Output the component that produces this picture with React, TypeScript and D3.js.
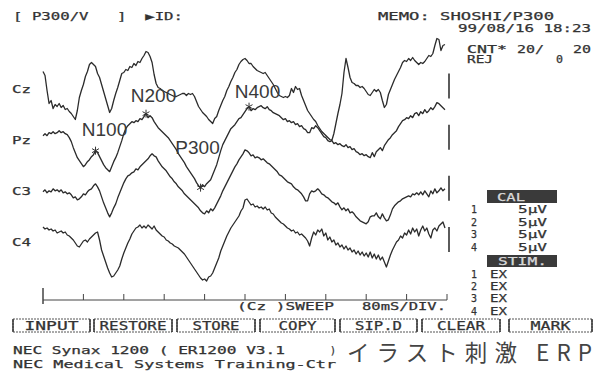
import React from 'react';
import * as d3 from 'd3';

// ERP averaging screen (NEC Synax 1200), 4 channels, 4 ms per sample
const SAMPLE_MS = 4;
const channels = ['Cz', 'Pz', 'C3', 'C4'];

// amplitudes in µV (positive drawn upward), one value per sample
const czUV = [
  3.4, 2.6, -0.4, -3, -2.4, -4, -3.2, -3.6, -3, -3.8,
  -3.4, -4.2, -4, -4.6, -5, -5.6, -6.2, -4.4, -1.8, -0.4,
  0.8, 2.4, 3.4, 4.8, 5.2, 4.8, 4.4, 3, 2.2, 0.8,
  -0.6, -2, -3.4, -4.8, -4, -2.4, -1, 0.2, 1.6, 3,
  3.2, 3.8, 3.6, 4.4, 4.2, 5, 4.6, 5.4, 5.2, 6,
  6.6, 7.4, 7.2, 6.4, 5.2, 2.8, 1, 0.2, 0, -0.4,
  -0.6, -0.8, -1, -1.2, -1.4, -1.6, -1.6, -1.4, -1.2, -1,
  -1, -1.4, -1, -1.2, -1, -1.6, -2.6, -3.6, -4.2, -4.8,
  -5.2, -5.6, -6.2, -6.6, -7, -6, -5.6, -4.4, -3.4, -2.4,
  -1.6, -0.4, 0.4, 1.4, 2.2, 3.2, 3.8, 4.8, 5.4, 5.8,
  6, 5.6, 5, 5, 4.4, 4, 3.6, 3.4, 3.2, 3,
  3.2, 2.6, 2, 1.4, 0.8, 0, -0.8, -1.4, -1.6, -1.8,
  -1.6, -1.8, -1.4, 0, -0.8, 0.4, -0.2, 0, -1.4, -2.4,
  -3.4, -4.4, -5, -5.6, -6.2, -6.6, -7.4, -8, -8.6, -9,
  -9.4, -9.8, -10.2, -10.4, -9, -7, -5, -3.2, -1, 3.2,
  6, 4.2, 2.2, 1.2, 1, 0.6, 0.6, 0.2, 0.4, 0,
  -0.6, -1.2, -1.4, -0.8, -0.2, -0.6, -0.2, -0.8, -2.4, -3.8,
  -3.2, -1.2, -0.2, 0.8, 1.8, 2.6, 3.4, 4.2, 5.2, 5.6,
  5.4, 6, 5.6, 6.2, 5.6, 5.2, 4.8, 5.2, 5, 5.4,
  6, 6.6, 6.4, 7, 8.6, 10, 9.8, 7.6, 8.6, 8.8,
];

const pzUV = [
  0.8, 1.2, 0.8, 1.4, 1.2, 1.6, 1.2, 1.4, 1.8, 1.4,
  1.6, 1.2, 1.0, 0.4, -0.4, -1.6, -2.6, -3.6, -4.2, -4.8,
  -5.4, -5.0, -4.4, -4.0, -3.4, -3.0, -2.2, -2.6, -3.4, -4.2,
  -5.0, -5.6, -6.0, -6.4, -5.4, -4.4, -3.6, -2.6, -1.4, -0.2,
  1.2, 2.2, 2.8, 3.2, 3.6, 3.4, 3.8, 3.6, 4.2, 4.0,
  4.6, 5.2, 4.4, 4.8, 4.4, 3.6, 3.0, 2.4, 2.0, 1.6,
  1.2, 0.8, 0.4, -0.2, -0.8, -1.4, -2.0, -2.8, -3.4, -4.0,
  -4.6, -5.4, -6.0, -6.6, -7.2, -7.8, -8.6, -9.2, -9.6, -9.0,
  -9.4, -8.8, -8.4, -8.0, -7.0, -6.0, -5.0, -3.6, -2.2, -1.0,
  -0.2, 0.6, 1.4, 2.2, 2.6, 3.0, 3.6, 4.2, 4.4, 5.0,
  5.6, 6.2, 6.6, 5.8, 6.2, 6.0, 6.4, 6.6, 6.8, 6.4,
  6.2, 6.6, 6.0, 5.8, 5.4, 5.2, 5.0, 4.8, 4.4, 4.0,
  4.2, 3.6, 3.8, 3.4, 3.6, 3.0, 3.2, 2.6, 2.8, 2.2,
  2.0, 1.4, 1.4, 2.4, 2.2, 2.8, 2.4, 1.8, 1.2, 0.6,
  0.4, -0.2, -0.4, -0.2, -0.8, -0.6, -1.0, -0.8, -1.2, -1.4,
  -1.0, -1.6, -1.4, -2.0, -1.8, -2.4, -2.6, -3.0, -2.8, -3.2,
  -3.0, -3.4, -3.6, -2.6, -3.4, -2.4, -2.0, -1.6, -2.2, -1.2,
  -0.6, 0.0, 0.4, 1.0, 1.4, 1.8, 2.6, 3.2, 3.8, 4.0,
  4.4, 4.2, 4.8, 4.4, 5.2, 5.4, 4.8, 5.6, 5.2, 6.0,
  5.4, 5.8, 6.4, 6.0, 6.6, 7.4, 7.2, 6.8, 6.4, 6.0,
];

const c3UV = [
  -0.2, 0.2, -0.4, 0, -0.2, 0.4, 0, 0.2, -0.2, 0.2,
  -0.4, -0.2, -0.6, -0.4, -0.8, -1.4, -1.2, -1.8, -1.6, -1.2,
  -0.6, -0.8, -0.2, 0.2, 0.4, 1, 1.4, 0.8, 0, -1.2,
  -2.4, -3.4, -4.4, -5.2, -4.4, -3.4, -2.6, -1.4, -0.4, 0.6,
  1.6, 2.4, 3, 3.2, 3.6, 3.8, 4.4, 4.2, 4.8, 5.2,
  5.6, 6, 6.4, 7, 7.4, 7, 6.8, 6, 5.4, 4.8,
  4.4, 4, 3.4, 2.8, 2.4, 1.8, 1.4, 0.8, 0.4, 0,
  -0.6, -1, -1.4, -1.8, -2.2, -2.6, -3, -3.4, -4, -4.4,
  -4.6, -4, -4.4, -3.6, -4, -3.4, -2.6, -1.8, -1, 0,
  0.8, 1.6, 2.4, 3.2, 4, 4.8, 5.4, 6.2, 6.8, 7.4,
  8.2, 8, 7.6, 7, 7.2, 6.6, 6.8, 6.6, 6.2, 6.4,
  6, 5.6, 5.4, 5, 4.6, 4.2, 3.8, 3.2, 3, 2.6,
  2.2, 1.8, 1.6, 1.4, 0.8, 0.4, 0.2, -0.2, -0.6, -1.2,
  -2, -2, -0.6, 0, -0.2, 0, 0.4, 0, -0.6, -0.8,
  -1.2, -1.4, -1.8, -2.2, -2.4, -2.8, -2.4, -3.2, -3.8, -3.4,
  -4, -3.6, -4.4, -4.2, -4.6, -5.2, -5.6, -6, -6.2, -6.4,
  -6.6, -6.2, -5.2, -5, -5, -4.4, -5.2, -5.6, -4.6, -5.4,
  -6, -5.8, -4.8, -3.6, -3, -2.6, -2.2, -2, -1.6, -1.4,
  -1.2, -1, -1.2, -0.6, -0.8, -0.4, -0.8, -0.2, -0.8, 0,
  -0.6, -1.2, 0, -0.6, 0.4, -0.4, 0, 0.6, 0, 0.4,
];

const c4UV = [
  3, 2.6, 2.8, 2.4, 2.6, 2.2, 2.4, 1.8, 2, 2.2,
  1.8, 2, 1.4, 1.2, 0.8, 0.4, -0.2, -0.8, -1, -0.4,
  0.2, 0.4, 0, 0.6, 1, 1.4, 1.8, 2, 0.4, -1.6,
  -2.8, -4, -5.2, -6.2, -7, -6.8, -6.2, -5.6, -4.8, -3.4,
  -2.2, -1.2, -0.2, 0.6, 1.6, 2.2, 2.8, 3, 3.4, 2.8,
  3.2, 2.8, 3.4, 3, 2.6, 3.2, 2.4, 2, 1.6, 1.2,
  1, 0.4, 0.2, -0.2, -0.4, -0.8, -1, -1.2, -1.6, -2,
  -2.4, -3, -3.6, -4.2, -4.8, -5.4, -6, -6.6, -7.2, -7.6,
  -7.4, -7.8, -7, -6.8, -6.2, -5.2, -4.2, -3.2, -1.8, -0.8,
  0.2, 1.2, 2, 2.8, 3.4, 4, 4.6, 5.2, 6.2, 6.8,
  8.4, 8.6, 8, 7.4, 7.6, 7, 7.2, 6.8, 7, 6.6,
  7, 6.4, 6.6, 5.8, 5.6, 5, 4.6, 4.2, 3.8, 3.6,
  3.2, 2.8, 2.6, 2.2, 2.4, 1.8, 2, 1.4, 1.6, 1.2,
  0.8, 0.2, -0.8, 0.8, 2, 1.4, 2.4, 2, 2.6, 1.2,
  1.8, 0.4, 1, 0, 0.4, -0.6, -0.2, -1, -0.6, -1.4,
  -0.8, -1.6, -1.2, -2, -1.6, -2.4, -1.8, -2.6, -2, -2.8,
  -2.2, -3, -2, -3.2, -2.4, -3.4, -2.6, -3.6, -3, -4,
  -5, -3.8, -2.6, -1.6, -0.8, 0, 0.4, 1.2, 0.8, 1.8,
  1.4, 2.4, 1.6, 2.8, 2, 2.6, 1.2, 2.4, 3.2, 2.2,
  2.8, 1.6, 0.8, 2.4, 2.8, 2.2, 3.2, 3.6, 4, 2.8,
];

const series: Record<string, number[]> = { Cz: czUV, Pz: pzUV, C3: c3UV, C4: c4UV };

// marked components (all picked on Pz)
const peakNames = ['N100', 'N200', 'P300', 'N400'];
const peakTimes = [104, 204, 312, 408];
const peakChannel = 'Pz';

const timeTicks = [0, 80, 160, 240, 320, 400, 480, 560, 640, 720, 800];
const calUV = 5;
const calRows = ['5µV', '5µV', '5µV', '5µV'];
const stimRows = ['EX', 'EX', 'EX', 'EX'];
const buttons = ['INPUT', 'RESTORE', 'STORE', 'COPY', 'SIP.D', 'CLEAR', 'MARK'];

// layout only
const W = 594;
const H = 372;
const INK = '#333';
const MONO = '"DejaVu Sans Mono", monospace';
const buttonBoxes = [[13, 90], [94, 172], [177, 255], [260, 335], [340, 417], [422, 500], [509, 592]];
const buttonTextLen = [54, 67, 47, 38, 47, 48, 40];
const labelOffset: Record<string, [number, number]> = {
  N100: [9, -15],
  N200: [7.5, -12],
  P300: [-3, -34],
  N400: [8.5, -9],
};

const Dot = ({ x, y, len, size = 10.5, fill = INK, children }: any) => (
  <text
    x={x}
    y={y}
    textLength={len}
    lengthAdjust="spacingAndGlyphs"
    fontFamily={MONO}
    fontSize={size}
    fill={fill}
    stroke={fill}
    strokeWidth={0.25}
    style={{ whiteSpace: 'pre' }}
  >
    {children}
  </text>
);

const App: React.FC = () => {
  const x = d3.scaleLinear().domain([0, 800]).range([43, 447]);
  const row = d3.scalePoint<string>().domain(channels).range([88.5, 242]);
  const amp = d3.scaleLinear().domain([0, 5]).range([0, -25]);

  const lineFor = (ch: string) =>
    d3.line<number>()
      .x((_, i) => x(i * SAMPLE_MS))
      .y(v => (row(ch) || 0) + amp(v))(series[ch]) || '';

  const axisY = 300;

  return (
    <svg
      width={W}
      height={H}
      style={{ position: 'absolute', left: 0, top: 0, display: 'block', background: '#fff' }}
    >
      <rect width={W} height={H} fill="#fff" />

      {/* header */}
      <Dot x={13} y={19.5} len={170}>{'[ P300/V   ]  ▶ID:'}</Dot>
      <Dot x={378} y={20} len={176}>MEMO: SHOSHI/P300</Dot>
      <Dot x={458} y={31.5} len={133}>99/08/16 18:23</Dot>
      <Dot x={467} y={52.5} len={40}>CNT*</Dot>
      <Dot x={517} y={52.5} len={27}>20/</Dot>
      <Dot x={573} y={52.5} len={18}>20</Dot>
      <Dot x={467} y={63} len={26}>REJ</Dot>
      <Dot x={556} y={63} len={7}>0</Dot>

      {/* channel labels */}
      {channels.map(ch => (
        <Dot key={ch} x={12} y={(row(ch) || 0) + 4} len={19}>{ch}</Dot>
      ))}

      {/* waveforms */}
      {channels.map(ch => (
        <path
          key={ch}
          d={lineFor(ch)}
          fill="none"
          stroke="#2b2b2b"
          strokeWidth={1.3}
          strokeLinejoin="round"
        />
      ))}

      {/* calibration bars */}
      {channels.map(ch => (
        <line
          key={ch}
          x1={x(800) + 2}
          x2={x(800) + 2}
          y1={(row(ch) || 0) + amp(calUV * 0.6)}
          y2={(row(ch) || 0) + amp(-calUV * 0.4)}
          stroke={INK}
          strokeWidth={1.6}
        />
      ))}

      {/* peak markers */}
      {peakNames.map((name, k) => {
        const t = peakTimes[k];
        const v = series[peakChannel][Math.round(t / SAMPLE_MS)];
        const px = x(t);
        const py = (row(peakChannel) || 0) + amp(v);
        const r = 4;
        const [dx, dy] = labelOffset[name];
        return (
          <g key={name}>
            {[90, 30, 150].map(a => {
              const rad = (a * Math.PI) / 180;
              return (
                <line
                  key={a}
                  x1={px - r * Math.cos(rad)}
                  y1={py - r * Math.sin(rad)}
                  x2={px + r * Math.cos(rad)}
                  y2={py + r * Math.sin(rad)}
                  stroke={INK}
                  strokeWidth={1}
                />
              );
            })}
            <text
              x={px + dx}
              y={py + dy}
              textAnchor="middle"
              fontFamily='"Liberation Sans", Arial, sans-serif'
              fontSize={19}
              fill="#3a3a3a"
            >
              {name}
            </text>
          </g>
        );
      })}

      {/* time axis */}
      <line x1={x(0)} x2={x(800)} y1={axisY} y2={axisY} stroke="#444" strokeWidth={1} />
      {timeTicks.map((t, k) => (
        <line
          key={t}
          x1={x(t)}
          x2={x(t)}
          y1={k === 0 ? axisY - 12 : axisY - 6}
          y2={k === 0 ? axisY + 4 : axisY}
          stroke="#444"
          strokeWidth={k === 0 ? 1.5 : 1}
        />
      ))}
      <Dot x={237} y={310} len={97}>(Cz )SWEEP</Dot>
      <Dot x={362} y={310} len={84}>80mS/DIV.</Dot>

      {/* CAL panel */}
      <rect x={487} y={190} width={70} height={13} fill="#3a3a3a" />
      <Dot x={497} y={201} len={28} fill="#d8d8d8">CAL</Dot>
      {calRows.map((c, k) => (
        <g key={k}>
          <Dot x={471} y={213 + k * 12.7} len={6}>{String(k + 1)}</Dot>
          <Dot x={518} y={213 + k * 12.7} len={29}>{c}</Dot>
        </g>
      ))}
      <rect x={487} y={255} width={70} height={12} fill="#3a3a3a" />
      <Dot x={498} y={265} len={49} fill="#d8d8d8">STIM.</Dot>
      {stimRows.map((s, k) => (
        <g key={k}>
          <Dot x={471} y={278 + k * 12.2} len={6}>{String(k + 1)}</Dot>
          <Dot x={490} y={278 + k * 12.2} len={17}>{s}</Dot>
        </g>
      ))}

      {/* button bar */}
      {buttons.map((b, k) => {
        const [x0, x1] = buttonBoxes[k];
        const cx = (x0 + x1) / 2;
        const len = buttonTextLen[k];
        return (
          <g key={b}>
            <rect x={x0} y={319} width={x1 - x0} height={13} fill="none" stroke="#555" strokeWidth={1} strokeDasharray="2,1" />
            <line x1={x0} x2={x0} y1={319} y2={332} stroke="#333" strokeWidth={1.5} />
            <line x1={x1} x2={x1} y1={319} y2={332} stroke="#333" strokeWidth={1.5} />
            <Dot x={cx - len / 2} y={330} len={len} size={12}>{b}</Dot>
          </g>
        );
      })}

      {/* footer */}
      <Dot x={13} y={353.5} len={272}>NEC Synax 1200 ( ER1200 V3.1</Dot>
      <Dot x={330} y={353.5} len={6}>)</Dot>
      <Dot x={13} y={367.5} len={323}>NEC Medical Systems Training-Ctr</Dot>
      <text
        x={347}
        y={361}
        textLength={245}
        lengthAdjust="spacing"
        fontFamily='"Noto Sans CJK JP", "Noto Sans", sans-serif'
        fontSize={22.5}
        fill="#444"
      >
        イラスト刺激 ERP
      </text>
    </svg>
  );
};

export default App;
